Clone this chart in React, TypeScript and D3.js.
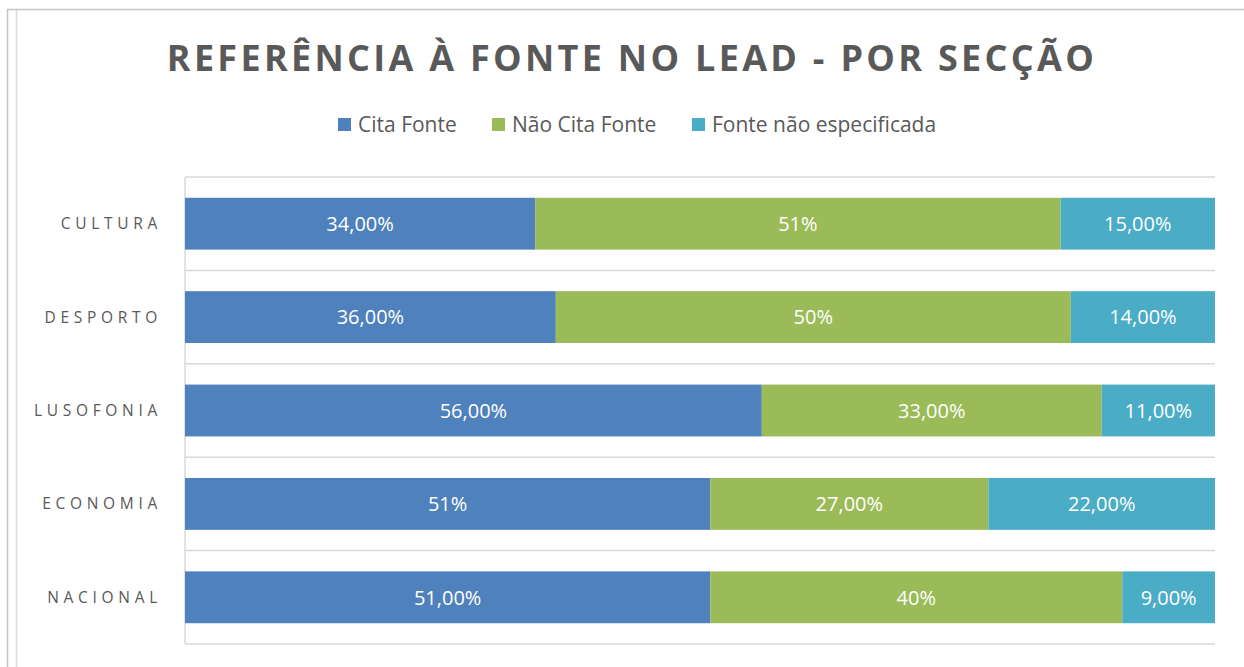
import React from "react";
import * as d3 from "d3";

const categories = ["CULTURA", "DESPORTO", "LUSOFONIA", "ECONOMIA", "NACIONAL"];
const seriesNames = ["Cita Fonte", "Não Cita Fonte", "Fonte não especificada"];
const citaFonte = [34, 36, 56, 51, 51];
const naoCitaFonte = [51, 50, 33, 27, 40];
const fonteNaoEspecificada = [15, 14, 11, 22, 9];
const citaLabels = ["34,00%", "36,00%", "56,00%", "51%", "51,00%"];
const naoCitaLabels = ["51%", "50%", "33,00%", "27,00%", "40%"];
const naoEspLabels = ["15,00%", "14,00%", "11,00%", "22,00%", "9,00%"];
const colors = ["#4F81BD", "#9BBB59", "#4BACC6"];

const W = 1244;
const H = 667;
const plot = { left: 185, right: 1215, top: 177, bottom: 644 };

export default function App() {
  const x = d3.scaleLinear().domain([0, 100]).range([plot.left, plot.right]);
  const y = d3
    .scaleBand<string>()
    .domain(categories)
    .range([plot.top, plot.bottom])
    .paddingInner(0.445)
    .paddingOuter(0.2225);
  const band = (plot.bottom - plot.top) / categories.length;
  const seriesVals = [citaFonte, naoCitaFonte, fonteNaoEspecificada];
  const seriesLabels = [citaLabels, naoCitaLabels, naoEspLabels];
  const rows = categories.map((c, i) => {
    let acc = 0;
    return seriesVals.map((vals, s) => {
      const x0 = acc;
      acc += vals[i];
      return { c, s, x0, x1: acc, label: seriesLabels[s][i] };
    });
  });
  const legendItems = [
    { name: seriesNames[0], mx: 338 },
    { name: seriesNames[1], mx: 492 },
    { name: seriesNames[2], mx: 692 },
  ];
  const gridYs = d3.range(categories.length + 1).map((i) => plot.top + i * band);

  return (
    <svg
      width={W}
      height={H}
      style={{ position: "absolute", left: 0, top: 0, background: "#fff" }}
      fontFamily="'Open Sans', sans-serif"
    >
      <rect x={0} y={0} width={W} height={H} fill="#fff" />
      <line x1={7.5} x2={7.5} y1={9} y2={H} stroke="#c4c4c4" strokeWidth={1.5} />
      <line x1={16.5} x2={16.5} y1={10} y2={H} stroke="#dcdcdc" strokeWidth={1.5} />
      <line x1={7} x2={W} y1={9.5} y2={9.5} stroke="#c8c8c8" strokeWidth={1.5} />

      <text
        x={632}
        y={71}
        textAnchor="middle"
        fontSize={36}
        fontWeight="bold"
        fill="#595959"
        letterSpacing={3.3}
      >
        REFERÊNCIA À FONTE NO LEAD - POR SECÇÃO
      </text>

      {legendItems.map((it, i) => (
        <g key={it.name}>
          <rect x={it.mx} y={118} width={13} height={13} fill={colors[i]} />
          <text x={it.mx + 20} y={132} fontSize={21} fill="#595959">
            {it.name}
          </text>
        </g>
      ))}

      {gridYs.map((gy, i) => (
        <line
          key={i}
          x1={plot.left}
          x2={plot.right}
          y1={gy}
          y2={gy}
          stroke="#d9d9d9"
          strokeWidth={1.5}
        />
      ))}
      <line
        x1={plot.left}
        x2={plot.left}
        y1={plot.top}
        y2={plot.bottom}
        stroke="#d9d9d9"
        strokeWidth={1.5}
      />

      {rows.map((segs, i) => (
        <g key={categories[i]}>
          {segs.map((sg) => (
            <g key={sg.s}>
              <rect
                x={x(sg.x0)}
                y={y(sg.c)!}
                width={x(sg.x1) - x(sg.x0)}
                height={y.bandwidth()}
                fill={colors[sg.s]}
              />
              <text
                x={(x(sg.x0) + x(sg.x1)) / 2}
                y={y(sg.c)! + y.bandwidth() / 2}
                dy="0.36em"
                textAnchor="middle"
                fontSize={20}
                fill="#fff"
              >
                {sg.label}
              </text>
            </g>
          ))}
          <text
            x={162}
            y={y(categories[i])! + y.bandwidth() / 2}
            dy="0.36em"
            textAnchor="end"
            fontSize={15.5}
            fill="#595959"
            letterSpacing={4.7}
          >
            {categories[i]}
          </text>
        </g>
      ))}
    </svg>
  );
}
